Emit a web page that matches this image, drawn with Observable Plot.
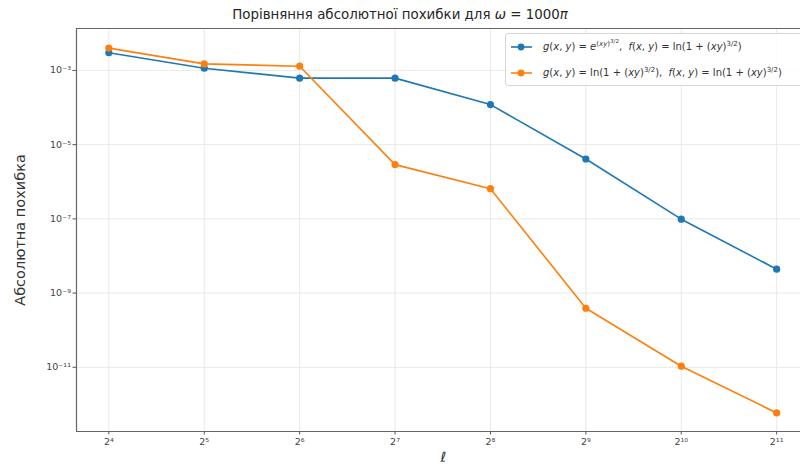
<!DOCTYPE html>
<html>
<head>
<meta charset="utf-8">
<script src="https://cdn.jsdelivr.net/npm/d3@7"></script>
<script src="https://cdn.jsdelivr.net/npm/@observablehq/plot@0.6"></script>
<style>
  html, body { margin: 0; padding: 0; background: #fff; width: 800px; height: 468px; overflow: hidden; font-family: "DejaVu Sans", sans-serif; }
  #wrap { position: relative; width: 800px; height: 468px; }
  #title { height: 26px; line-height: 30px; text-align: center; font-size: 13.4px; color: #262626; }
  #legend { position: absolute; left: 505px; top: 33px; width: 320px; height: 51px; border: 1px solid #d6d6d6; border-radius: 3px; background: rgba(255,255,255,0.85); font-size: 10px; color: #333; }
  .row { position: absolute; left: 4px; height: 14px; line-height: 14px; white-space: nowrap; }
  .row svg { vertical-align: middle; }
  .row span { position: absolute; left: 33px; top: 0; }
  i { font-style: italic; }
  sup { font-size: 7px; line-height: 0; }
  sup sup { font-size: 5.5px; }
</style>
</head>
<body>
<div id="wrap">
  <div id="title">Порівняння абсолютної похибки для <i>ω</i> = 1000<i>π</i></div>
  <div id="chart"></div>
  <div id="legend"></div>
</div>
<script>
// x values as exponents of 2 (ℓ = 2^k)
const exponents = [4, 5, 6, 7, 8, 9, 10, 11];
const seriesNames = [
  'g(x, y) = e^((xy)^(3/2)),  f(x, y) = ln(1 + (xy)^(3/2))',
  'g(x, y) = ln(1 + (xy)^(3/2)),  f(x, y) = ln(1 + (xy)^(3/2))'
];
const blueValues = [3.0e-3, 1.15e-3, 6.2e-4, 6.2e-4, 1.2e-4, 4.1e-6, 9.8e-8, 4.4e-9];
const orangeValues = [4.0e-3, 1.5e-3, 1.3e-3, 2.9e-6, 6.5e-7, 3.9e-10, 1.07e-11, 5.9e-13];
const colors = ["#1f77b4", "#ff7f0e"];
const yTicks = [1e-3, 1e-5, 1e-7, 1e-9, 1e-11];
const xDomain = [3.661, 11.25];
const yDomain = [Math.pow(10, -12.73), Math.pow(10, -1.87)];

const sup = {"0":"⁰","1":"¹","2":"²","3":"³","4":"⁴","5":"⁵","6":"⁶","7":"⁷","8":"⁸","9":"⁹","-":"⁻"};
const toSup = s => String(s).split("").map(c => sup[c] || c).join("");

const data = [];
exponents.forEach((k, i) => {
  data.push({k, v: blueValues[i], s: seriesNames[0]});
  data.push({k, v: orangeValues[i], s: seriesNames[1]});
});

const chart = Plot.plot({
  width: 800,
  height: 442,
  marginLeft: 76,
  marginRight: 0,
  marginTop: 2,
  marginBottom: 37,
  style: { fontFamily: "DejaVu Sans, sans-serif", fontSize: "9px", color: "#444", background: "transparent", overflow: "visible" },
  x: { domain: xDomain, label: null },
  y: { type: "log", domain: yDomain, label: null },
  color: { domain: seriesNames, range: colors },
  marks: [
    Plot.ruleY(yTicks, { stroke: "#e3e3e3", strokeWidth: 0.8 }),
    Plot.ruleX(exponents, { stroke: "#e3e3e3", strokeWidth: 0.8 }),
    Plot.axisX({ ticks: exponents, tickFormat: d => "2" + toSup(d), tickSize: 3.5, tickPadding: 3, stroke: "#555", fill: "#444", fontSize: 9.5 }),
    Plot.axisY({ ticks: yTicks, tickFormat: d => "10" + toSup(Math.round(Math.log10(d))), tickSize: 3.5, tickPadding: 2, stroke: "#555", fill: "#444", fontSize: 9.5 }),
    Plot.ruleX([xDomain[0]], { stroke: "#666", strokeWidth: 1.2 }),
    Plot.ruleY([yDomain[0]], { stroke: "#666", strokeWidth: 1.2 }),
    Plot.ruleY([yDomain[1]], { stroke: "#666", strokeWidth: 1.2 }),
    Plot.line(data, { x: "k", y: "v", z: "s", stroke: "s", strokeWidth: 1.6 }),
    Plot.dot(data, { x: "k", y: "v", fill: "s", r: 3.6 }),
    Plot.text(["Абсолютна похибка"], { frameAnchor: "left", textAnchor: "middle", dx: -56, rotate: -90, fontSize: 14.5, fill: "#333" }),
    Plot.text(["ℓ"], { frameAnchor: "bottom", x: (xDomain[0] + 11.35) / 2, dy: 30, fontSize: 14, fontStyle: "italic", fill: "#333" })
  ]
});
document.getElementById("chart").appendChild(chart);

// legend built from the same names and colors
const legend = document.getElementById("legend");
const labelsHtml = [
  '<i>g</i>(<i>x</i>, <i>y</i>) = <i>e</i><sup>(<i>xy</i>)<sup>3/2</sup></sup>,&nbsp; <i>f</i>(<i>x</i>, <i>y</i>) = ln(1 + (<i>xy</i>)<sup>3/2</sup>)',
  '<i>g</i>(<i>x</i>, <i>y</i>) = ln(1 + (<i>xy</i>)<sup>3/2</sup>),&nbsp; <i>f</i>(<i>x</i>, <i>y</i>) = ln(1 + (<i>xy</i>)<sup>3/2</sup>)'
];
seriesNames.forEach((name, i) => {
  const row = document.createElement("div");
  row.className = "row";
  row.style.top = (i === 0 ? 6 : 32) + "px";
  row.innerHTML = `<svg width="28" height="14"><line x1="1" y1="7" x2="22" y2="7" stroke="${colors[i]}" stroke-width="1.6"/><circle cx="11" cy="7" r="3.4" fill="${colors[i]}"/></svg><span>${labelsHtml[i]}</span>`;
  legend.appendChild(row);
});
</script>
</body>
</html>
